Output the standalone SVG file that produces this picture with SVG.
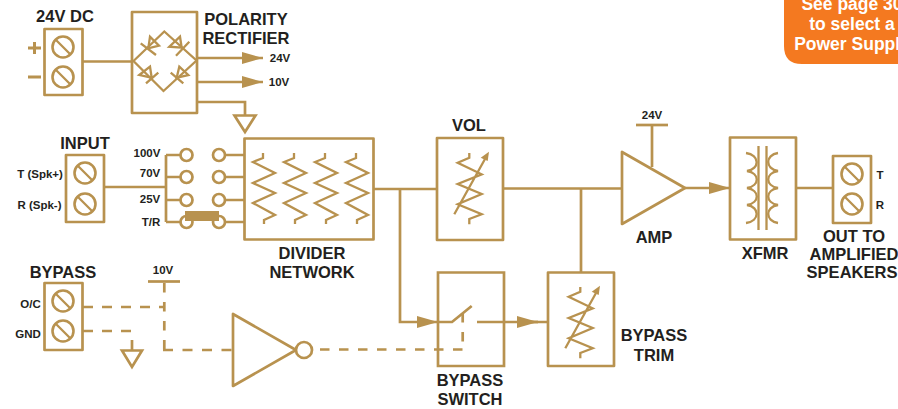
<svg xmlns="http://www.w3.org/2000/svg" width="898" height="409" viewBox="0 0 898 409">
<style>
.l{fill:none;stroke:#b8924f;stroke-width:2.700;stroke-linejoin:miter}
.n{fill:none;stroke:#b8924f;stroke-width:2.300;stroke-linejoin:miter}
.b{fill:#fff;stroke:#b8924f;stroke-width:2.700;stroke-linejoin:round}
.t{fill:none;stroke:#b8924f;stroke-width:2.300}
.d{fill:none;stroke:#b8924f;stroke-width:2.700;stroke-dasharray:9.500 9.500}
.a{fill:#b8924f;stroke:none}
text{font-family:"Liberation Sans",Arial,sans-serif;font-weight:bold;fill:#231f20;text-anchor:middle}
.h{font-size:16.500px}
.s{font-size:11.500px}
.w{font-size:17.500px;fill:#fff}
</style>
<defs>
<g id="screw"><circle r="10.500" fill="#fff" stroke="#b8924f" stroke-width="2.600"/><path d="M-7-7L7 7" class="n"/></g>
<marker id="arw" markerUnits="userSpaceOnUse" markerWidth="22" markerHeight="12" refX="21" refY="6" orient="auto"><path d="M0 0L21 6L0 12Z" class="a"/></marker>
<path id="res" d="M0 0V5L-10 9L12 20L-10 30L12 40L-10 50L12 62L1 67V71" class="n"/>
<path id="vres" d="M-.7 0V4.700L-12.300 9.700L11.700 21.300L-12.300 31L11.700 41L-12.300 51.300L11.700 61.300L-.7 66V71.300M-15.700 61.300L15 6" class="n"/>
<path id="vhead" d="M19-1.300L10.700 4.700L17.700 8Z" class="a"/>
</defs>

<g id="power-note">
<path d="M784 0H898V64H802Q784 64 784 46Z" fill="#f47920"/>
<text class="w" x="852" y="10">See page 30</text>
<text class="w" x="852" y="30">to select a</text>
<text class="w" x="852" y="50">Power Supply</text>
</g>

<g id="connectors">
<path class="l" d="M83 61.500H134"/>
<path class="l" d="M197 58H263" marker-end="url(#arw)"/>
<path class="l" d="M197 82H263" marker-end="url(#arw)"/>
<path class="l" d="M197 102H245V115"/>
<path class="l" d="M104 187H166M166 155V222M166 155H180M166 177H180M166 200H180M166 222H180M225 155H244M225 177H244M225 200H244M225 222H244"/>
<path class="l" d="M373 189H437M400 189V322H438" marker-end="url(#arw)"/>
<path class="l" d="M438 322H452L471.700 306"/>
<path class="l" d="M503 188.500H622M581 188.500V272"/>
<path class="l" d="M652 125V167"/>
<path class="l" d="M685 188H730" marker-end="url(#arw)"/>
<path class="l" d="M796 188H833"/>
<path class="l" d="M477 322H547"/>
<path class="l" d="M517 322H538" marker-end="url(#arw)"/>
<path class="d" d="M83 307H165" stroke-dasharray="10 9" style="stroke-dasharray:10 9"/>
<path class="d" d="M83 331H132" style="stroke-dasharray:10 9"/>
<path class="l" d="M132 340V350"/>
<path class="d" d="M164.300 283V350"/>
<path class="d" d="M163 350H233" style="stroke-dasharray:10 9.500"/>
<path class="d" d="M462.500 349.500H318"/>
<path class="d" d="M462.700 313V342"/>
</g>

<g id="dc-terminal">
<text class="h" x="65" y="22">24V DC</text>
<rect class="b" x="44.500" y="29" width="38" height="66"/>
<use href="#screw" x="63" y="47"/><use href="#screw" x="63" y="77"/>
<path d="M28 48H41M34.500 42V54M28 77H41" stroke="#b8924f" stroke-width="3" fill="none"/>
</g>

<g id="polarity-rectifier">
<rect class="b" x="132" y="12" width="65" height="101"/>
<path class="n" d="M133.500 61L164.300 31.500L196.500 60.500L163.500 91Z"/>
<path class="n" d="M148.300 48.300L150 36.700L159 45.700ZM140.700 43.300L156 55M181.700 47.700L169.300 46.700L180 36.700ZM176 55.700L189.300 41.700M139.300 75L150 66.700L151.700 77.700ZM146 83.300L158.300 72.700M179.300 66.700L188.300 75L176.700 77.700ZM170.700 72.700L183.300 83.300"/>
<text class="h" x="246" y="25">POLARITY</text>
<text class="h" x="246" y="44">RECTIFIER</text>
<text class="s" x="280" y="62">24V</text>
<text class="s" x="279" y="86">10V</text>
<path class="l" d="M234.500 115.500H255.500L245 132Z"/>
</g>

<g id="input-terminal">
<text class="h" x="85" y="149">INPUT</text>
<rect class="b" x="66" y="155" width="38" height="67"/>
<use href="#screw" x="85" y="173"/><use href="#screw" x="85" y="204"/>
<text class="s" x="40" y="178">T (Spk+)</text>
<text class="s" x="39.500" y="209">R (Spk-)</text>
</g>

<g id="tap-selector">
<text class="s" x="147" y="157">100V</text>
<text class="s" x="150" y="177">70V</text>
<text class="s" x="150" y="203">25V</text>
<text class="s" x="151" y="226">T/R</text>
<g fill="#fff" stroke="#b8924f" stroke-width="2.700">
<circle cx="186.500" cy="155" r="6"/><circle cx="186.500" cy="177" r="6"/><circle cx="186.500" cy="200" r="6"/><circle cx="186.500" cy="222" r="6"/>
<circle cx="219" cy="155" r="6"/><circle cx="219" cy="177" r="6"/><circle cx="219" cy="200" r="6"/><circle cx="219" cy="222" r="6"/>
</g>
<rect class="a" x="185" y="211" width="34" height="10"/>
</g>

<g id="divider-network">
<rect class="b" x="244.500" y="138.500" width="129" height="101"/>
<use href="#res" x="263" y="153"/><use href="#res" x="294" y="153"/><use href="#res" x="325" y="153"/><use href="#res" x="356" y="153"/>
<text class="h" x="312" y="259">DIVIDER</text>
<text class="h" x="312" y="278">NETWORK</text>
</g>

<g id="vol">
<text class="h" x="469" y="131">VOL</text>
<rect class="b" x="437" y="138" width="66" height="102"/>
<use href="#vres" x="470" y="153"/><use href="#vhead" x="470" y="153"/>
</g>

<g id="amp">
<text class="s" x="652" y="119">24V</text>
<path class="l" d="M636 125H668"/>
<path class="b" d="M622 152V224L685 188Z"/>
<text class="h" x="654" y="243">AMP</text>
</g>

<g id="xfmr">
<rect class="b" x="730" y="137.500" width="66" height="102"/>
<path class="t" d="M758.500 146V230M766.500 146V230"/>
<path class="t" d="M746 153C760 155 760 169 747 171C760 173 760 186 747 188C760 190 760 203 747 205C760 207 760 221 746 223M778 153C765 155 765 169 778 171C765 173 765 186 778 188C765 190 765 203 778 205C765 207 765 221 778 223"/>
<text class="h" x="765" y="259">XFMR</text>
</g>

<g id="out-terminal">
<rect class="b" x="833" y="156" width="38" height="67"/>
<use href="#screw" x="852" y="174"/><use href="#screw" x="852" y="204"/>
<text class="s" x="880" y="179">T</text>
<text class="s" x="880" y="209">R</text>
<text class="h" x="854" y="242">OUT TO</text>
<text class="h" x="854" y="260">AMPLIFIED</text>
<text class="h" x="852" y="278">SPEAKERS</text>
</g>

<g id="bypass-terminal">
<text class="h" x="63" y="278">BYPASS</text>
<rect class="b" x="44.500" y="283" width="38" height="67"/>
<use href="#screw" x="63" y="301"/><use href="#screw" x="63" y="331"/>
<text class="s" x="30.500" y="308">O/C</text>
<text class="s" x="28" y="338">GND</text>
</g>

<g id="bypass-logic">
<text class="s" x="163" y="274">10V</text>
<path class="l" d="M148 281.500H180"/>
<path class="l" d="M122 350.500H142L132 367Z"/>
<path class="b" d="M233 314V386L296 350Z"/>
<circle cx="304" cy="350" r="8" fill="#fff" stroke="#b8924f" stroke-width="2.700"/>
</g>

<g id="bypass-switch">
<path d="M438 272.500H504V366H438Z" class="l" stroke-linejoin="round"/>
<text class="h" x="470" y="386">BYPASS</text>
<text class="h" x="470" y="405">SWITCH</text>
</g>

<g id="bypass-trim">
<rect class="b" x="548" y="272.500" width="66" height="93.500"/>
<use href="#vres" x="581" y="287"/><use href="#vhead" x="581" y="287"/>
<text class="h" x="654" y="341">BYPASS</text>
<text class="h" x="654" y="361">TRIM</text>
</g>
</svg>
